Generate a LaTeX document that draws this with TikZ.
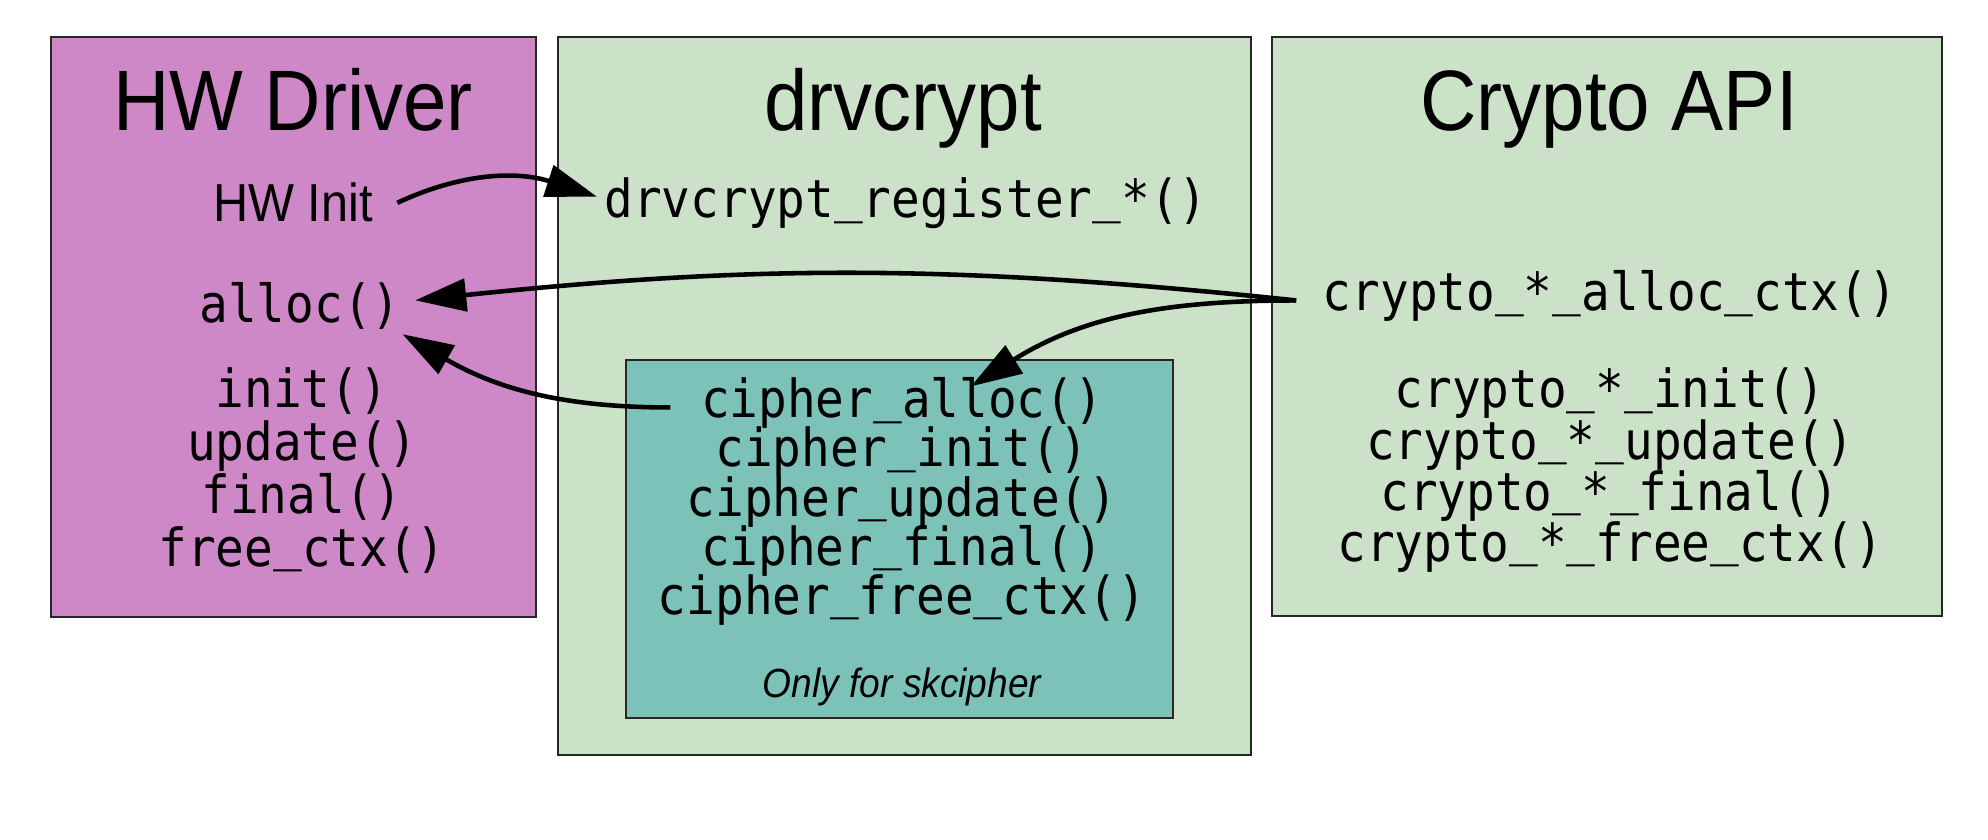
\documentclass[tikz,border=0pt]{standalone}
\usepackage{fontspec}
\setmainfont{Liberation Sans}[FakeStretch=0.91]
\newfontfamily\codefont{DejaVu Sans Mono}[FakeStretch=0.91]
\usetikzlibrary{arrows.meta}

\definecolor{drvpink}{HTML}{CE87C7}
\definecolor{layergreen}{HTML}{CBE1C8}
\definecolor{cipherteal}{HTML}{7CC2B8}

% underscore sitting close to the baseline
\newcommand{\usc}{\raisebox{0.12em}{\_}}

\tikzset{
    block/.style={draw=black!85, line width=0.6pt},
    title/.style={font=\fontsize{24.4}{28}\selectfont, anchor=base, inner sep=0pt},
    func/.style={font=\codefont\fontsize{14.9}{17}\selectfont, anchor=base, inner sep=2pt,
        text height=0.7em, text depth=0.1em},
    fnline/.style={func, inner ysep=0pt},
    call/.style={-{Triangle[length=14.5pt,width=9.2pt]}, line width=1.3pt},
}

\begin{document}
\begin{tikzpicture}[x=0.01cm, y=0.01cm]
            \useasboundingbox (0,0) rectangle (1988,-840);
            % layers
            \draw [block, fill=drvpink] (51,-37) rectangle (536,-617);
            \draw [block, fill=layergreen] (558,-37) rectangle (1251,-755);
            \draw [block, fill=layergreen] (1272,-37) rectangle (1942,-616);
            \draw [block, fill=cipherteal] (626,-360) rectangle (1173,-718);
            \node [title] (hwtitle) at (293,-131) {HW Driver};
            \node [title] (drvtitle) at (903,-131) {drvcrypt};
            \node [title] (apititle) at (1609,-131) {Crypto API};
            % HW driver
            \node [anchor=base, inner xsep=6.8pt, font=\fontsize{15.2}{17}\selectfont] (hwinit) at (293,-222) {HW Init};
            \node [func, inner xsep=4pt] (hwalloc) at (300,-323) {alloc()};
            \node [fnline] (hwinitfn) at (302,-408) {init()};
            \node [fnline] (hwupdate) at (302,-460) {update()};
            \node [fnline] (hwfinal) at (302,-513) {final()};
            \node [fnline] (hwfree) at (302,-566) {free\usc ctx()};
            % drvcrypt
            \node [func] (register) at (906,-218) {drvcrypt\usc register\usc *()};
            \node [func, inner xsep=8.5pt, inner ysep=1.8pt] (cipheralloc) at (902,-418) {cipher\usc alloc()};
            \node [fnline] (cipherinit) at (902,-467) {cipher\usc init()};
            \node [fnline] (cipherupdate) at (902,-516) {cipher\usc update()};
            \node [fnline] (cipherfinal) at (902,-565) {cipher\usc final()};
            \node [fnline] (cipherfree) at (902,-614) {cipher\usc free\usc ctx()};
            \node [anchor=base, font=\itshape\fontsize{11.6}{14}\selectfont] (skcipher) at (902,-697) {Only for skcipher};
            % Crypto API
            \node [func, inner xsep=7.4pt] (cryalloc) at (1610,-311) {crypto\usc *\usc alloc\usc ctx()};
            \node [fnline] (cryinit) at (1610,-408) {crypto\usc *\usc init()};
            \node [fnline] (cryupdate) at (1610,-459) {crypto\usc *\usc update()};
            \node [fnline] (cryfinal) at (1610,-510) {crypto\usc *\usc final()};
            \node [fnline] (cryfree) at (1610,-561) {crypto\usc *\usc free\usc ctx()};
            % calls
            \draw [call] (hwinit.east) to [out=25, in=162] (register.178);
            \draw [call] (cryalloc.west) to [bend right=6] (hwalloc.6);
            \draw [call] (cryalloc.west) to [out=180, in=32] (cipheralloc.17.5);
            \draw [call] (cipheralloc.west) to [out=180, in=-30] (hwalloc.-12);
        \end{tikzpicture}
\end{document}
